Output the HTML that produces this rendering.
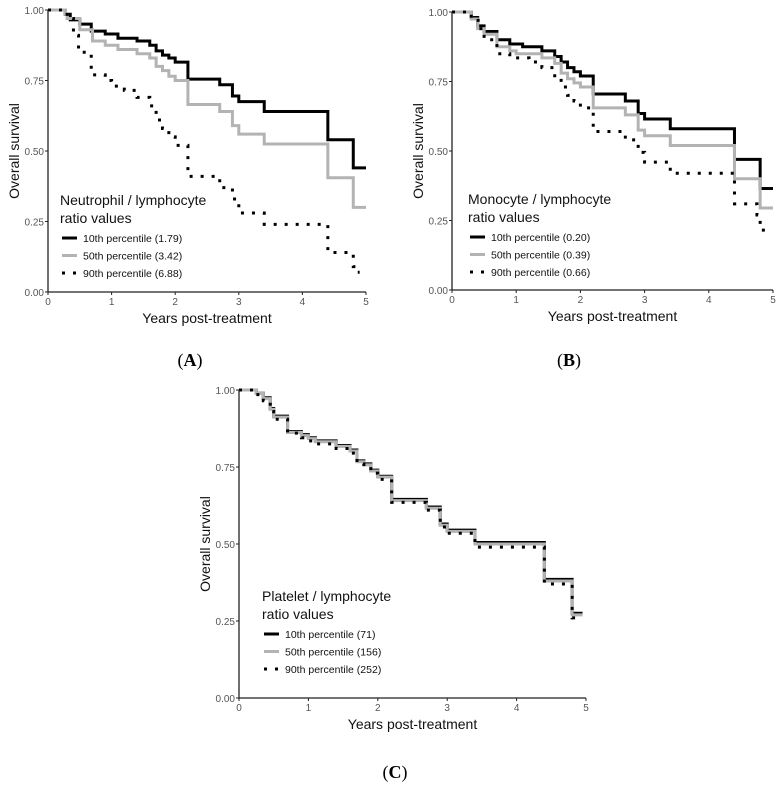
<!DOCTYPE html>
<html><head><meta charset="utf-8"><style>
body{margin:0;background:#fff;}
svg{display:block;font-family:"Liberation Sans",sans-serif;}
.tick{font-size:10px;fill:#555;}
.ttl{font-size:14px;fill:#111;}
.leg{font-size:10.5px;fill:#111;}
.pl{font-family:"Liberation Serif",serif;font-size:18px;fill:#000;}
</style></head><body>
<svg id="s" width="780" height="788"></svg>
<script>
// Panel A: Neutrophil/lymphocyte
const aT1=[0,0.27,0.35,0.5,0.68,0.9,1.1,1.4,1.6,1.7,1.8,1.9,2.0,2.2,2.7,2.9,3.0,3.4,4.4,4.8,5.0];
const aS1=[1,0.985,0.965,0.95,0.925,0.915,0.9,0.89,0.875,0.855,0.84,0.83,0.815,0.755,0.735,0.695,0.675,0.64,0.54,0.44,0.44];
const aT2=[0,0.27,0.3,0.5,0.7,0.9,1.1,1.4,1.6,1.7,1.8,1.9,2.0,2.2,2.7,2.9,3.0,3.4,4.4,4.8,5.0];
const aS2=[1,0.985,0.97,0.93,0.89,0.875,0.86,0.845,0.83,0.8,0.785,0.765,0.75,0.665,0.64,0.59,0.56,0.525,0.405,0.3,0.3];
const aT3=[0,0.3,0.4,0.48,0.68,0.9,1.0,1.2,1.4,1.6,1.7,1.8,1.9,2.0,2.2,2.7,2.9,3.0,3.4,4.4,4.8,4.85,4.9];
const aS3=[1,0.97,0.91,0.85,0.77,0.75,0.73,0.715,0.69,0.66,0.61,0.58,0.55,0.52,0.41,0.37,0.33,0.28,0.24,0.14,0.09,0.07,0.07];
// Panel B: Monocyte/lymphocyte
const bT1=[0,0.3,0.4,0.5,0.7,0.9,1.1,1.4,1.6,1.7,1.8,1.9,2.0,2.2,2.7,2.9,3.0,3.4,4.4,4.8,5.0];
const bS1=[1,0.98,0.95,0.93,0.9,0.885,0.875,0.86,0.84,0.82,0.8,0.785,0.77,0.705,0.68,0.635,0.615,0.58,0.47,0.365,0.365];
const bT2=[0,0.3,0.4,0.5,0.7,0.9,1.0,1.4,1.6,1.7,1.8,1.9,2.0,2.2,2.7,2.9,3.0,3.4,4.4,4.8,5.0];
const bS2=[1,0.975,0.94,0.92,0.875,0.86,0.85,0.835,0.815,0.78,0.76,0.745,0.73,0.655,0.63,0.575,0.555,0.52,0.4,0.295,0.295];
const bT3=[0,0.3,0.45,0.5,0.7,0.9,1.2,1.4,1.6,1.7,1.8,1.9,2.0,2.2,2.7,2.9,3.0,3.4,4.4,4.75,4.8,4.85,4.88];
const bS3=[1,0.97,0.93,0.9,0.85,0.835,0.82,0.8,0.765,0.73,0.7,0.68,0.655,0.57,0.54,0.495,0.46,0.42,0.31,0.27,0.23,0.2,0.2];
// Panel C: Platelet/lymphocyte
const cT=[0,0.25,0.35,0.45,0.5,0.7,0.9,1.0,1.1,1.4,1.6,1.7,1.8,1.9,2.0,2.2,2.7,2.9,3.0,3.4,4.4,4.8,4.95];
const cS1=[1,0.99,0.975,0.94,0.915,0.865,0.855,0.845,0.835,0.82,0.805,0.77,0.76,0.74,0.72,0.645,0.62,0.565,0.545,0.505,0.385,0.275,0.275];
const cS2=[1,0.99,0.972,0.937,0.912,0.862,0.852,0.842,0.832,0.817,0.802,0.767,0.757,0.737,0.717,0.641,0.616,0.561,0.541,0.5,0.38,0.27,0.27];
const cS3=[1,0.985,0.965,0.93,0.905,0.86,0.845,0.835,0.825,0.81,0.795,0.76,0.75,0.73,0.71,0.635,0.61,0.555,0.535,0.49,0.37,0.26,0.26];
const xTicks=[0,1,2,3,4,5];
const yTicks=[0,0.25,0.5,0.75,1];
const yTickLabels=["0.00","0.25","0.50","0.75","1.00"];

const NS="http://www.w3.org/2000/svg";
const svg=document.getElementById('s');
function mk(tag,attrs,parent,txt){const e=document.createElementNS(NS,tag);for(const k in attrs)e.setAttribute(k,attrs[k]);if(txt!==undefined)e.textContent=txt;(parent||svg).appendChild(e);return e;}

function panel(p){
  const g=mk('g',{});
  
  
  const X=t=>p.x0+(p.x1-p.x0)*t/5, Y=s=>p.y0+(p.y1-p.y0)*s;
  // series
  p.series.forEach(se=>{
    let d='M'+X(se.t[0])+','+Y(se.s[0]);
    for(let i=1;i<se.t.length;i++){d+=' H'+X(se.t[i])+' V'+Y(se.s[i]);}
    const path=mk('path',{d:d,fill:'none',stroke:se.c,'stroke-width':3,'stroke-dasharray':se.dash||'none'},g);
    
    
  });
  // axes
  const ax=mk('path',{d:`M${p.x0},${p.y1} V${p.y0} H${p.x1}`,fill:'none',stroke:'#222','stroke-width':1.3},g);
  
  
  xTicks.forEach(v=>{
    mk('line',{x1:X(v),x2:X(v),y1:p.y0,y2:p.y0+3,stroke:'#222'},g);
    const t=mk('text',{x:X(v),y:p.y0+13,'text-anchor':'middle',class:'tick'},g,String(v));
    
    
  });
  yTicks.forEach((v,i)=>{
    mk('line',{x1:p.x0-3,x2:p.x0,y1:Y(v),y2:Y(v),stroke:'#222'},g);
    const t=mk('text',{x:p.x0-4,y:Y(v)+4,'text-anchor':'end',class:'tick'},g,yTickLabels[i]);
    
    
  });
  const xt=mk('text',{x:(p.x0+p.x1)/2,y:p.y0+31,'text-anchor':'middle',class:'ttl'},g,'Years post-treatment');
  
  
  const yc=(p.y0+p.y1)/2;
  const yt=mk('text',{x:p.x0-29,y:yc,'text-anchor':'middle',class:'ttl',transform:`rotate(-90 ${p.x0-29} ${yc})`},g,'Overall survival');
  
  
  // legend
  const lg=mk('g',{},g);
  
  
  mk('text',{x:p.lx,y:p.ly,class:'ttl'},lg,p.title);
  mk('text',{x:p.lx,y:p.ly+18,class:'ttl'},lg,'ratio values');
  p.series.forEach((se,i)=>{
    const cy=p.ly+33+i*17.5;
    mk('line',{x1:p.lx+2,x2:p.lx+17,y1:cy,y2:cy,stroke:se.c,'stroke-width':3,'stroke-dasharray':se.dash||'none'},lg);
    const t=mk('text',{x:p.lx+23,y:cy+4,class:'leg'},lg,se.label);
    
    
  });
  const pl=mk('text',{x:p.plx,y:p.ply,'text-anchor':'middle',class:'pl'},g);
  
  
  mk('tspan',{},pl,'(');mk('tspan',{'font-weight':'bold'},pl,p.letter);mk('tspan',{},pl,')');
}
const GR='#b3b3b3', DOT='3,8';
panel({name:'panel-a',x0:48,x1:366,y0:292,y1:10,lx:60,ly:205,title:'Neutrophil / lymphocyte',letter:'A',plx:190,ply:366,
 series:[{t:aT1,s:aS1,c:'#000',n:'line-10th',label:'10th percentile (1.79)'},
         {t:aT2,s:aS2,c:GR,n:'line-50th',label:'50th percentile (3.42)'},
         {t:aT3,s:aS3,c:'#000',dash:DOT,n:'line-90th',label:'90th percentile (6.88)'}]});
panel({name:'panel-b',x0:452,x1:773,y0:290,y1:12,lx:468,ly:204,title:'Monocyte / lymphocyte',letter:'B',plx:569,ply:366,
 series:[{t:bT1,s:bS1,c:'#000',n:'line-10th',label:'10th percentile (0.20)'},
         {t:bT2,s:bS2,c:GR,n:'line-50th',label:'50th percentile (0.39)'},
         {t:bT3,s:bS3,c:'#000',dash:DOT,n:'line-90th',label:'90th percentile (0.66)'}]});
panel({name:'panel-c',x0:239,x1:586,y0:698,y1:390,lx:262,ly:601,title:'Platelet / lymphocyte',letter:'C',plx:395,ply:778,
 series:[{t:cT,s:cS1,c:'#000',n:'line-10th',label:'10th percentile (71)'},
         {t:cT,s:cS2,c:GR,n:'line-50th',label:'50th percentile (156)'},
         {t:cT,s:cS3,c:'#000',dash:DOT,n:'line-90th',label:'90th percentile (252)'}]});
</script>
</body></html>
